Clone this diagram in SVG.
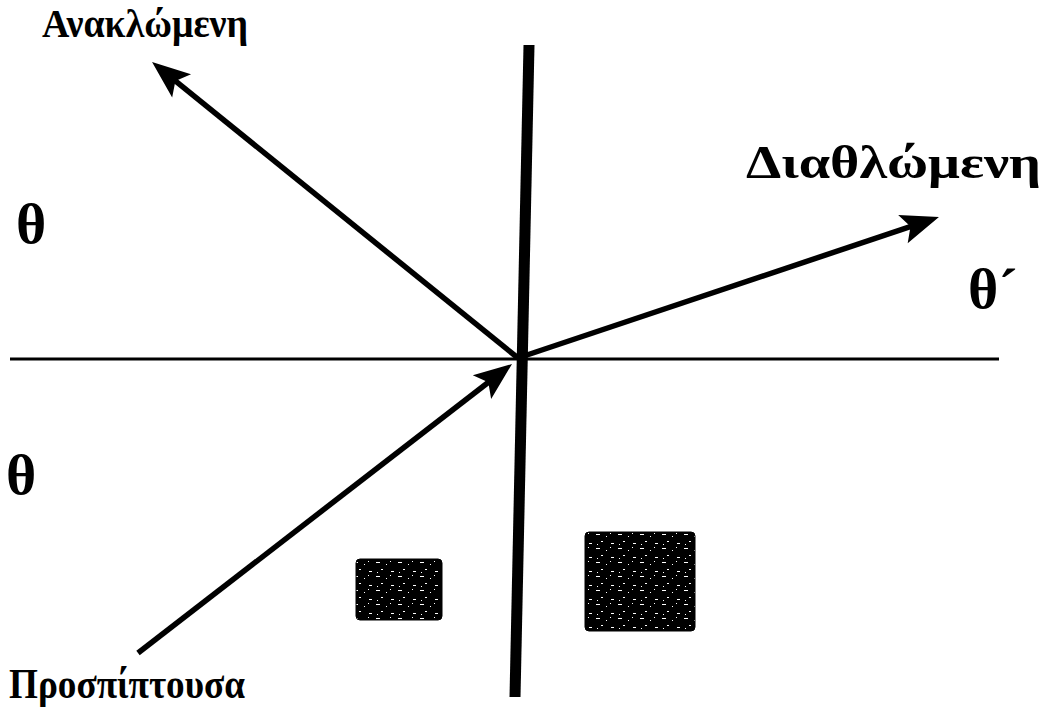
<svg xmlns="http://www.w3.org/2000/svg" width="1044" height="713" viewBox="0 0 1044 713">
  <style>
    .lbl { font-family: "Liberation Serif", "Times New Roman", serif; font-weight: bold; fill: #000; }
    .ray { stroke: #000; stroke-width: 5.5; fill: none; marker-end: url(#head); }
    .axis { stroke: #000; fill: none; }
    .medium { fill: url(#speckle); stroke: #000; stroke-width: 1; }
  </style>
  <defs>
    <marker id="head" markerUnits="userSpaceOnUse" viewBox="-40 -17 42 34" refX="-20" refY="0" markerWidth="42" markerHeight="34" orient="auto">
      <path d="M0,0 L-38,-15 L-30,0 L-38,15 Z" fill="#000"/>
    </marker>
    <pattern id="speckle" patternUnits="userSpaceOnUse" width="22" height="14">
      <rect width="22" height="14" fill="#000"/>
      <rect x="2" y="2" width="4" height="1" fill="#fff"/>
      <rect x="12" y="4" width="1" height="1" fill="#fff"/>
      <rect x="7" y="9" width="2" height="1" fill="#fff"/>
      <rect x="17" y="11" width="3" height="1" fill="#fff"/>
      <rect x="16" y="1" width="1" height="1" fill="#fff"/>
      <rect x="3" y="12" width="1" height="1" fill="#fff"/>
    </pattern>
  </defs>

  <g id="connectors">
    <line class="axis" x1="10" y1="359" x2="999" y2="359" stroke-width="3"/>
    <line class="axis" x1="529" y1="45" x2="515" y2="697" stroke-width="11"/>
    <line id="reflected" class="ray" x1="518" y1="358" x2="167.6" y2="74.6"/>
    <line id="refracted" class="ray" x1="518" y1="358" x2="920" y2="223.4"/>
    <line id="incident" class="ray" x1="138" y1="653" x2="496.2" y2="376.2"/>
  </g>

  <g id="medium-left">
    <rect class="medium" x="356" y="559" width="86" height="61" rx="4"/>
  </g>
  <g id="medium-right">
    <rect class="medium" x="585" y="532" width="110" height="99" rx="4"/>
  </g>

  <g id="label-reflected">
    <text class="lbl" x="42" y="37" font-size="40" textLength="206" lengthAdjust="spacingAndGlyphs">Ανακλώμενη</text>
  </g>
  <g id="label-refracted">
    <text class="lbl" x="746" y="178" font-size="46" textLength="295" lengthAdjust="spacingAndGlyphs">Διαθλώμενη</text>
  </g>
  <g id="label-incident">
    <text class="lbl" x="9" y="698" font-size="42" textLength="236" lengthAdjust="spacingAndGlyphs">Προσπίπτουσα</text>
  </g>
  <g id="theta-upper">
    <text class="lbl" x="16" y="243" font-size="58">θ</text>
  </g>
  <g id="theta-lower">
    <text class="lbl" x="6" y="494" font-size="58">θ</text>
  </g>
  <g id="theta-prime">
    <text class="lbl" x="968" y="308" font-size="58">θ´</text>
  </g>
</svg>
